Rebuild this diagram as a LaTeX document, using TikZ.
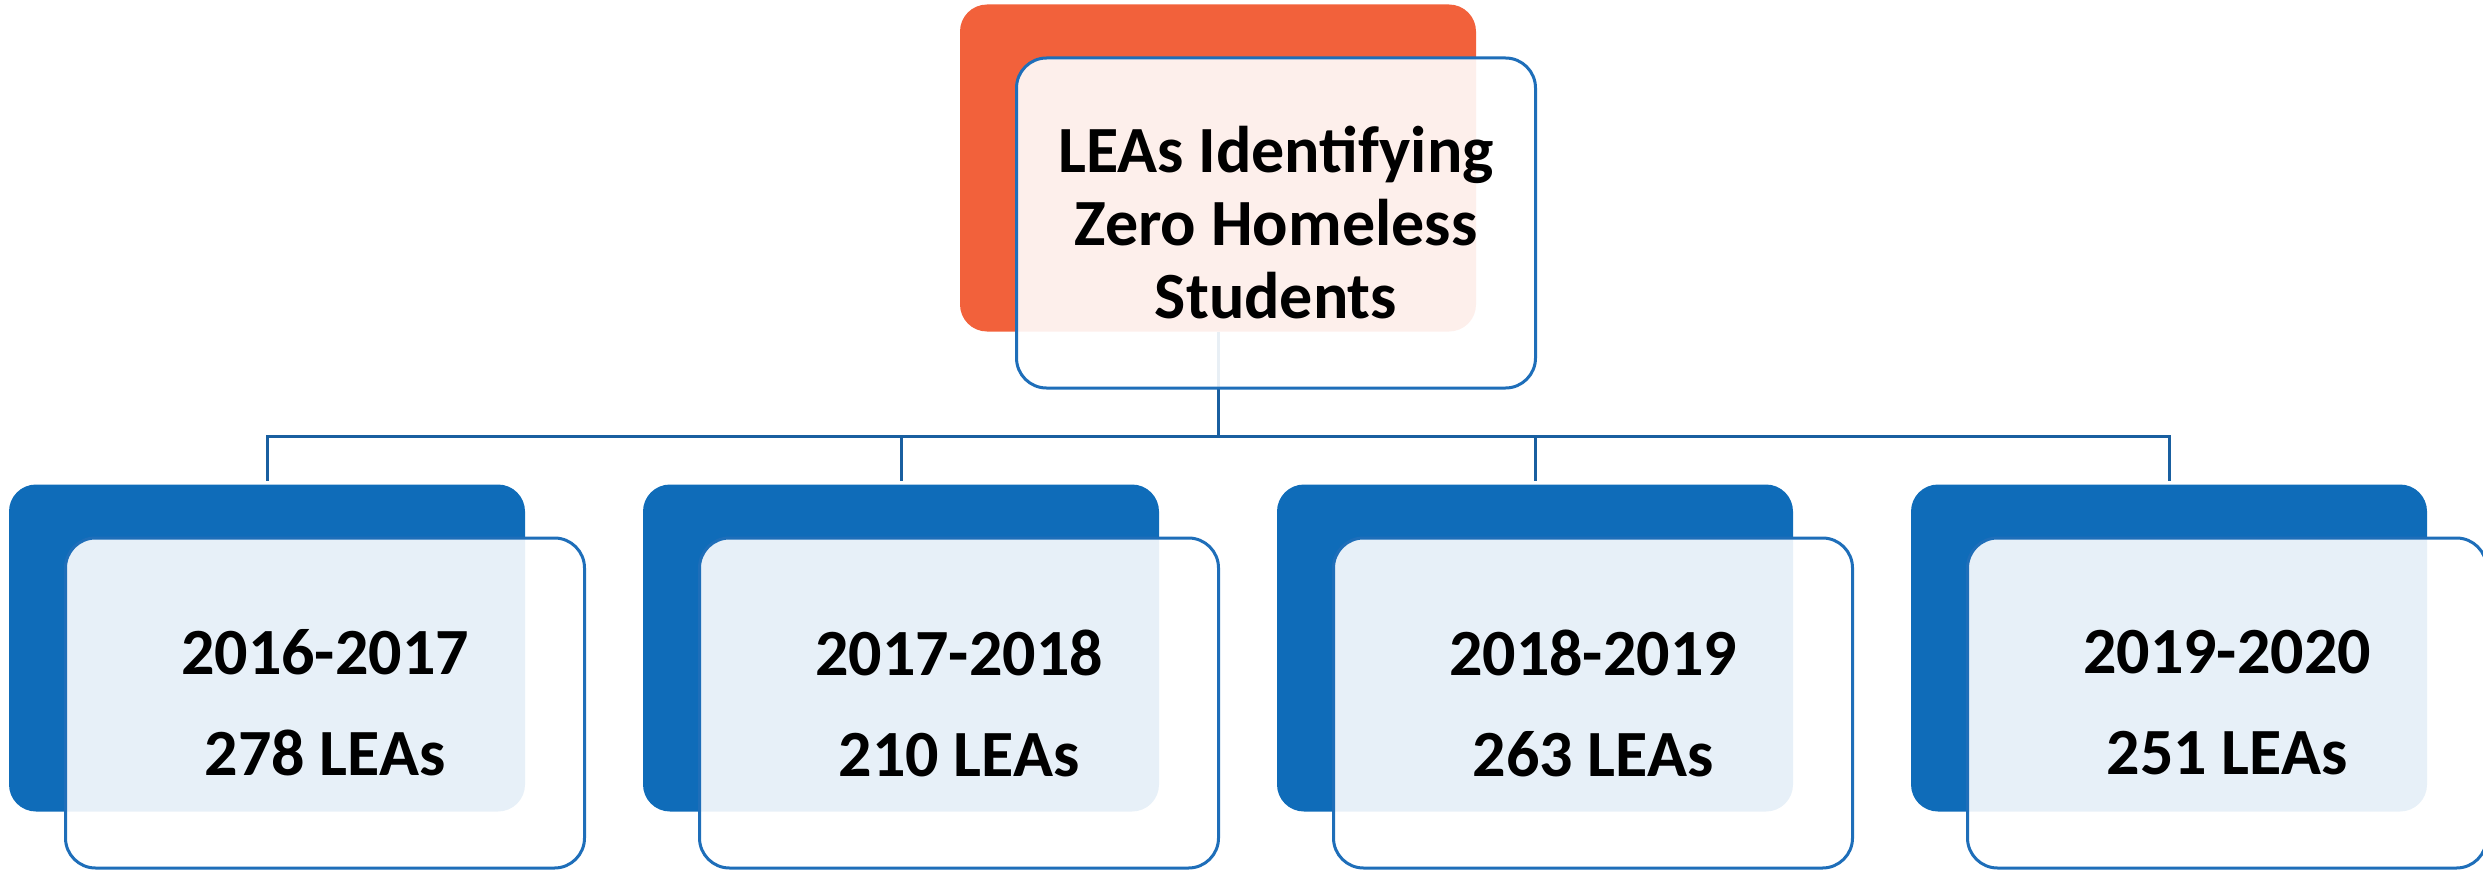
\documentclass[tikz,border=0pt]{standalone}
\usepackage{fontspec}
\setmainfont{Carlito}
\usetikzlibrary{positioning}
\begin{document}
\begin{tikzpicture}[x=1pt,y=-1pt]
  % Colors
  \definecolor{headcolor}{RGB}{242,97,59}
  \definecolor{yearcolor}{RGB}{15,108,185}
  \definecolor{edgecolor}{RGB}{30,110,185}
  \definecolor{linkcolor}{RGB}{25,95,160}

  % Styles
  \tikzstyle{back}=[rounded corners=27pt,minimum width=516pt,minimum height=327pt,inner sep=0pt]
  \tikzstyle{front}=[draw=edgecolor,line width=3pt,fill=white,fill opacity=0.9,text opacity=1,
    rounded corners=30pt,minimum width=519pt,minimum height=330pt,inner sep=0pt,align=center,shift={(58,55)}]
  \tikzstyle{link}=[draw=linkcolor,line width=3pt]

  \useasboundingbox (0,0) rectangle (2483,872);

  % The back boxes
  \node[back,fill=headcolor] (head) at (1218,168) {};
  \foreach \x [count=\i] in {267,901,1535,2169}
    \node[back,fill=yearcolor] (y\i) at (\x,648) {};

  % The connectors
  \coordinate (bus) at (1218,436);
  \draw[link] (head.south) -- (bus);
  \foreach \i in {1,...,4}
    \draw[link] (bus) -| ([yshift=3pt]y\i.north);

  % The front boxes
  \node[front,font=\fontsize{66}{73}\selectfont\bfseries] (headtext) at (head)
    {LEAs Identifying\\Zero Homeless\\Students};
  \foreach \yr/\n [count=\i] in {2016-2017/278,2017-2018/210,2018-2019/263,2019-2020/251}
    \node[front,font=\fontsize{66}{101}\selectfont\bfseries] (y\i text) at (y\i)
      {\yr\\\n\ LEAs};
\end{tikzpicture}
\end{document}
